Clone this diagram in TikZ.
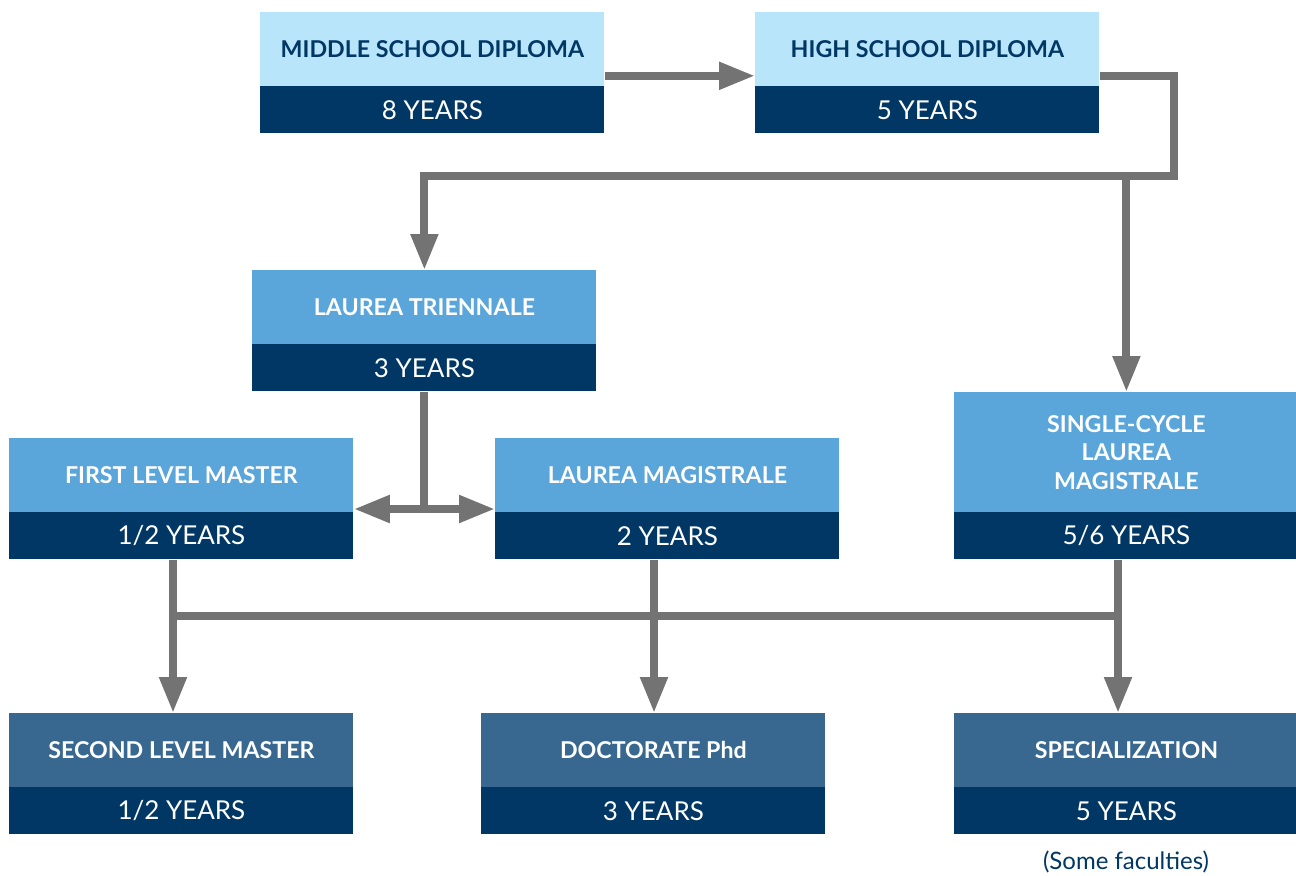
\documentclass[tikz,border=0pt]{standalone}
\usepackage{fontspec}
\setmainfont{Lato}
\usetikzlibrary{positioning}
\usetikzlibrary{arrows.meta}
\definecolor{lightcyan}{HTML}{B9E5FB}
\definecolor{navy}{HTML}{003764}
\definecolor{midblue}{HTML}{5AA5DA}
\definecolor{steelblue}{HTML}{386890}
\definecolor{pipegray}{HTML}{737373}
\tikzset{title/.style = {anchor=north west, inner sep=0, minimum width=172pt, minimum height=37pt,
                         align=center, font=\bfseries\fontsize{11.6}{14.25}\selectfont}}
\tikzset{years/.style = {below=-0.5pt of #1, inner sep=0, minimum width=172pt, minimum height=23.5pt,
                         fill=navy, text=white, font=\fontsize{13}{15}\selectfont}}
\tikzset{pipe/.style = {draw=pipegray, line width=4pt}}
\tikzset{>={Triangle[width=13pt, length=18pt]}}

\begin{document}
\begin{tikzpicture}[x=0.5pt, y=-0.5pt]
          \useasboundingbox (0,0) rectangle (1296,875);
          % diplomas
          \node [title, fill=lightcyan, text=navy] (ms) at (260,12) {MIDDLE SCHOOL DIPLOMA};
          \node [years=ms] (msy) {8 YEARS};
          \node [title, fill=lightcyan, text=navy] (hs) at (755,12) {HIGH SCHOOL DIPLOMA};
          \node [years=hs] (hsy) {5 YEARS};
          % first and second cycle
          \node [title, fill=midblue, text=white] (lt) at (252,270) {LAUREA TRIENNALE};
          \node [years=lt] (lty) {3 YEARS};
          \node [title, fill=midblue, text=white] (flm) at (9,438) {FIRST LEVEL MASTER};
          \node [years=flm] (flmy) {1/2 YEARS};
          \node [title, fill=midblue, text=white] (lm) at (495,438) {LAUREA MAGISTRALE};
          \node [years=lm] (lmy) {2 YEARS};
          \node [title, fill=midblue, text=white, minimum height=60pt] (sc) at (954,392) {SINGLE-CYCLE\\LAUREA\\MAGISTRALE};
          \node [years=sc] (scy) {5/6 YEARS};
          % third cycle
          \node [title, fill=steelblue, text=white] (slm) at (9,713) {SECOND LEVEL MASTER};
          \node [years=slm] (slmy) {1/2 YEARS};
          \node [title, fill=steelblue, text=white] (doc) at (481,713) {DOCTORATE Phd};
          \node [years=doc] (docy) {3 YEARS};
          \node [title, fill=steelblue, text=white] (spec) at (954,713) {SPECIALIZATION};
          \node [years=spec] (specy) {5 YEARS};
          \node [text=navy, font=\fontsize{12}{14}\selectfont] (note) at (1126,862) {(Some faculties)};
          % connectors
          \draw [pipe, ->] ([yshift=5.5pt]ms.south east) -- ([yshift=5.5pt]hs.south west);
          \coordinate (hsr) at ([yshift=5.5pt]hs.south east);
          \coordinate (turn) at (1174,176);
          \draw [pipe, ->] (hsr) -| (turn) -| (lt.north);
          \coordinate (fork) at (sc.north |- turn);
          \draw [pipe, ->] (fork) -- (sc.north);
          \coordinate (split) at (lty.south |- 0,509);
          \draw [pipe] (lty.south) -- (split);
          \draw [pipe, <->] (flm.east |- split) -- (lm.west |- split);
          \coordinate (b1) at (173,616);
          \coordinate (b2) at (654,616);
          \coordinate (b3) at (1118,616);
          \draw [pipe] (flmy.south -| b1) -- (b1) -- (b3);
          \draw [pipe] (lmy.south -| b2) -- (b2);
          \draw [pipe] (scy.south -| b3) -- (b3);
          \draw [pipe, ->] (b1) -- (slm.north -| b1);
          \draw [pipe, ->] (b2) -- (doc.north -| b2);
          \draw [pipe, ->] (b3) -- (spec.north -| b3);
        \end{tikzpicture}
\end{document}
